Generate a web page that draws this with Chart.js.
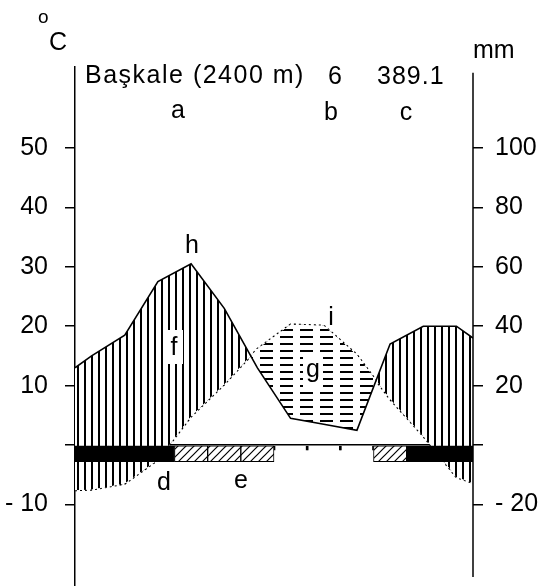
<!DOCTYPE html>
<html lang="tr">
<head>
<meta charset="utf-8">
<title>Başkale iklim diyagramı</title>
<script src="https://cdn.jsdelivr.net/npm/chart.js@4.4.1/dist/chart.umd.min.js"></script>
<style>
  html, body { margin: 0; padding: 0; background: #fff; }
  #chart { display: block; }
</style>
</head>
<body>
<canvas id="chart" width="547" height="586"></canvas>
<script>
const MONTHS = ['Oca', 'Şub', 'Mar', 'Nis', 'May', 'Haz', 'Tem', 'Ağu', 'Eyl', 'Eki', 'Kas', 'Ara'];
// monthly mean temperature, °C
const TEMP_C = [-7.5, -6.5, -2.5, 4.8, 10.2, 16.2, 20.3, 20.1, 15.2, 7.7, 1.5, -5.4];
// monthly precipitation, mm
const PRECIP_MM = [30, 37, 55, 61, 46, 26, 9, 7, 5, 34, 40, 40];
// where the curves meet the two axes (start of Jan, end of Dec)
const TEMP_EDGES = [-7.6, -6.4];
const PRECIP_EDGES = [26, 36];
// 2 = absolute frost, 1 = probable frost, 0 = frost free
const FROST = [2, 2, 2, 1, 1, 1, 0, 0, 0, 1, 2, 2];
const TEMP_TICKS = [50, 40, 30, 20, 10, 0, -10];
const PRECIP_TICKS = [100, 80, 60, 40, 20, 0, -20];

const STATION = 'Başkale (2400 m)';
const MEAN_TEMP = '6';
const ANNUAL_PRECIP = '389.1';

const FONT = '"Liberation Sans", Arial, sans-serif';
const TEMP_MIN = -23.7;
const TEMP_MAX = 63.6;
const FROST_DEPTH = -2.8;
const TICK_DEPTH = -0.9;

const canvas = document.getElementById('chart');
const ctx = canvas.getContext('2d');

function makePattern(w, h, draw) {
  const c = document.createElement('canvas');
  c.width = w;
  c.height = h;
  const g = c.getContext('2d');
  g.fillStyle = '#fff';
  g.fillRect(0, 0, w, h);
  g.fillStyle = '#000';
  g.strokeStyle = '#000';
  draw(g);
  return ctx.createPattern(c, 'repeat');
}

const vertHatch = makePattern(7, 1, (g) => g.fillRect(0, 0, 2, 1));
const horizDash = makePattern(20, 7, (g) => g.fillRect(0, 0, 13, 2));
const diagHatch = makePattern(8, 8, (g) => {
  g.lineWidth = 1.2;
  g.beginPath();
  g.moveTo(-1, 9);
  g.lineTo(9, -1);
  g.moveTo(7, 9);
  g.lineTo(9, 7);
  g.moveTo(-1, 1);
  g.lineTo(1, -1);
  g.stroke();
});

function curve(values, edges) {
  return [
    { x: 0, y: edges[0] },
    ...values.map((v, i) => ({ x: i + 0.5, y: v })),
    { x: MONTHS.length, y: edges[1] },
  ];
}

function tickLabel(v) {
  if (v === 0) return '';
  return v < 0 ? `- ${Math.abs(v)}` : String(v);
}

const annotations = {
  id: 'annotations',
  afterDraw(chart) {
    const c = chart.ctx;
    const y1 = chart.scales.y1;
    c.save();
    // right axis line
    c.strokeStyle = '#000';
    c.lineWidth = 1.5;
    c.beginPath();
    c.moveTo(chart.chartArea.right, y1.getPixelForValue(125.3));
    c.lineTo(chart.chartArea.right, y1.getPixelForValue(-44.4));
    c.stroke();

    // white holes behind f and g
    c.fillStyle = '#fff';
    c.fillRect(165, 330, 18, 34);
    c.fillRect(303, 357, 20, 31);

    c.fillStyle = '#000';
    c.textBaseline = 'alphabetic';
    c.font = `25px ${FONT}`;
    const put = (text, x, y, align = 'center', spacing = '0px') => {
      c.textAlign = align;
      c.letterSpacing = spacing;
      c.fillText(text, x, y);
    };
    put('C', 49, 50, 'left');
    put(STATION, 85, 83, 'left', '1.5px');
    put(MEAN_TEMP, 328, 84, 'left');
    put(ANNUAL_PRECIP, 377, 84, 'left', '1px');
    put('mm', 473, 58, 'left');
    put('a', 178, 118);
    put('b', 331, 120);
    put('c', 406, 120);
    put('h', 192, 253);
    put('i', 331, 325);
    put('f', 174, 355);
    put('g', 313, 377);
    put('d', 164, 490);
    put('e', 241, 488);
    c.font = `19px ${FONT}`;
    put('o', 38, 23, 'left');
    c.restore();
  },
};

function noEdgePadding(scale) {
  scale.paddingTop = 0;
  scale.paddingBottom = 0;
}

// eslint-disable-next-line no-new
new Chart(ctx, {
  type: 'line',
  data: {
    datasets: [
      {
        label: 'Sıcaklık',
        data: curve(TEMP_C, TEMP_EDGES),
        yAxisID: 'y',
        borderColor: '#000',
        borderWidth: 2,
        borderDash: [2, 3],
        pointRadius: 0,
        tension: 0,
        fill: false,
        order: 2,
      },
      {
        label: 'Yağış',
        data: curve(PRECIP_MM, PRECIP_EDGES),
        yAxisID: 'y1',
        borderColor: '#000',
        borderWidth: 1.6,
        pointRadius: 0,
        tension: 0,
        fill: { target: 0, above: vertHatch, below: horizDash },
        order: 1,
      },
      {
        type: 'bar',
        label: 'Don',
        data: FROST.map((f, i) => ({ x: i + 0.5, y: [f ? FROST_DEPTH : TICK_DEPTH, 0] })),
        yAxisID: 'y',
        backgroundColor: FROST.map((f) => (f === 2 ? '#000' : f === 1 ? diagHatch : 'rgba(0,0,0,0)')),
        borderColor: '#000',
        borderWidth: FROST.map((f) => (f === 0 ? { left: 1, right: 1, top: 0, bottom: 0 } : 1)),
        borderSkipped: false,
        barPercentage: 1,
        categoryPercentage: 1,
        order: 0,
      },
    ],
  },
  options: {
    responsive: false,
    animation: false,
    events: [],
    layout: { padding: { top: 67, right: 0, bottom: 0, left: 0 } },
    plugins: { legend: { display: false }, tooltip: { enabled: false } },
    scales: {
      x: {
        type: 'linear',
        min: 0,
        max: MONTHS.length,
        offset: false,
        display: false,
        ticks: { stepSize: 1 },
      },
      y: {
        position: 'left',
        min: TEMP_MIN,
        max: TEMP_MAX,
        z: 1,
        afterBuildTicks(scale) {
          scale.ticks = TEMP_TICKS.map((v) => ({ value: v }));
        },
        afterFit(scale) {
          noEdgePadding(scale);
          scale.width = 75;
        },
        ticks: {
          callback: tickLabel,
          color: '#000',
          padding: 17,
          font: { family: FONT, size: 25 },
        },
        grid: {
          drawOnChartArea: true,
          color: (c) => (c.tick && c.tick.value === 0 ? '#000' : 'rgba(0,0,0,0)'),
          tickColor: '#000',
          tickLength: 10,
          lineWidth: 1.5,
        },
        border: { display: true, color: '#000', width: 1.5 },
      },
      y1: {
        position: 'right',
        min: TEMP_MIN * 2,
        max: TEMP_MAX * 2,
        afterBuildTicks(scale) {
          scale.ticks = PRECIP_TICKS.map((v) => ({ value: v }));
        },
        afterFit(scale) {
          noEdgePadding(scale);
          scale.width = 74;
        },
        ticks: {
          callback: tickLabel,
          color: '#000',
          padding: 12,
          font: { family: FONT, size: 25 },
        },
        grid: {
          drawOnChartArea: false,
          tickColor: '#000',
          tickLength: 10,
          lineWidth: 1.5,
        },
        border: { display: false },
      },
    },
  },
  plugins: [annotations],
});
</script>
</body>
</html>
